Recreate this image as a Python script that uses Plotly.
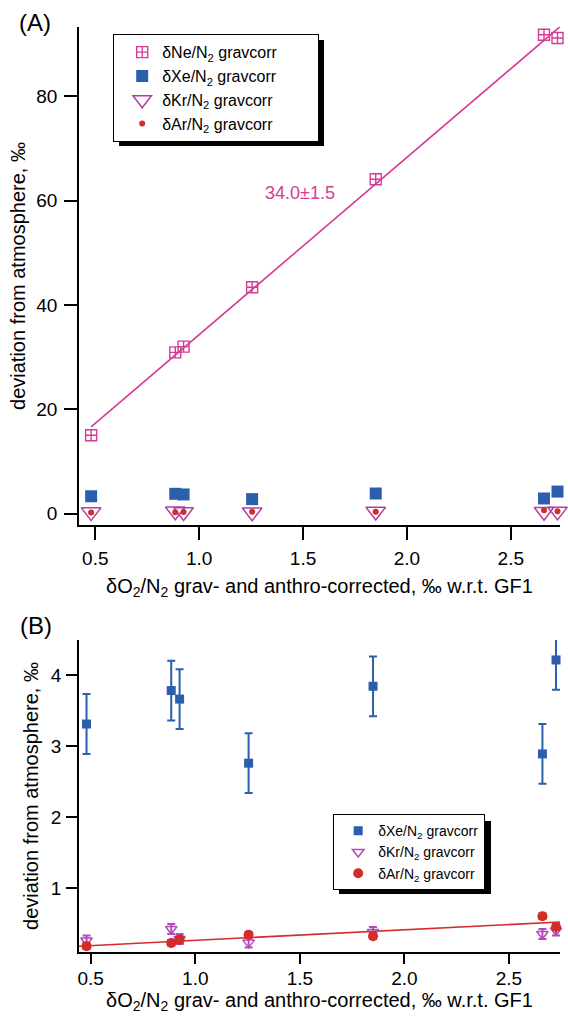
import plotly.graph_objects as go

# ---------------- data ----------------
x_o2n2 = [0.48, 0.885, 0.925, 1.255, 1.85, 2.66, 2.725]
ne_dev = [15.0, 30.9, 32.0, 43.4, 64.1, 91.8, 91.2]
xe_dev = [3.31, 3.78, 3.66, 2.76, 3.84, 2.89, 4.21]
xe_err = [0.42, 0.42, 0.42, 0.42, 0.42, 0.42, 0.42]
kr_dev = [0.27, 0.43, 0.29, 0.24, 0.39, 0.36, 0.41]
kr_err = [0.07, 0.07, 0.07, 0.07, 0.07, 0.07, 0.07]
ar_dev = [0.19, 0.235, 0.28, 0.35, 0.33, 0.61, 0.46]
ar_err = [0.04, 0.04, 0.05, 0.04, 0.04, 0.04, 0.04]

ne_fit_slope, ne_fit_intercept = 34.0, 0.3
ne_fit_label = "34.0±1.5"
ar_fit_slope, ar_fit_intercept = 0.1475, 0.124

xrange_a = [0.4216, 2.737]
yrange_a = [-2.2, 93.3]
xrange_b = [0.444, 2.744]
yrange_b = [0.108, 4.49]
xticks = [0.5, 1.0, 1.5, 2.0, 2.5]
xticklabels = ["0.5", "1.0", "1.5", "2.0", "2.5"]
yticks_a = [0, 20, 40, 60, 80]
yticks_b = [1, 2, 3, 4]

# ---------------- styles ----------------
NE = "#d63b97"
KR_A = "#b0409f"
KR_B = "#b449b8"
XE = "#2b5ead"
AR = "#d42b2b"
FONT = "Liberation Sans, Arial, sans-serif"
PAD_A = "\u00a0" * 8
PAD_B = ""

W, H = 568, 1021
L, R, T, B = 79, 8, 27, 69
PW, PH = W - L - R, H - T - B


def px(x):
    return (x - L) / PW


def py(y):
    return (H - B - y) / PH


fig = go.Figure()

# ---- panel A ----
fx_a = [x_o2n2[0], xrange_a[1]]
fig.add_trace(go.Scatter(
    x=fx_a, y=[ne_fit_slope * v + ne_fit_intercept for v in fx_a],
    mode="lines", line=dict(color=NE, width=1.6), showlegend=False,
    xaxis="x", yaxis="y", hoverinfo="skip"))
fig.add_trace(go.Scatter(
    x=x_o2n2, y=ne_dev, mode="markers", name="δNe/N<sub>2</sub> gravcorr" + PAD_A,
    marker=dict(symbol="square-cross-open", size=11, color=NE, line=dict(width=1.4)),
    cliponaxis=False, xaxis="x", yaxis="y", legend="legend", legendgroup="a1"))
fig.add_trace(go.Scatter(
    x=x_o2n2, y=xe_dev, mode="markers", name="δXe/N<sub>2</sub> gravcorr" + PAD_A,
    marker=dict(symbol="square", size=12, color=XE),
    cliponaxis=False, xaxis="x", yaxis="y", legend="legend", legendgroup="a2"))
fig.add_trace(go.Scatter(
    x=x_o2n2, y=kr_dev, mode="markers", name="δKr/N<sub>2</sub> gravcorr" + PAD_A,
    marker=dict(symbol="triangle-down-open", size=17, color=KR_A, line=dict(width=1.5)),
    cliponaxis=False, xaxis="x", yaxis="y", legend="legend", legendgroup="a3"))
fig.add_trace(go.Scatter(
    x=x_o2n2, y=ar_dev, mode="markers", name="δAr/N<sub>2</sub> gravcorr" + PAD_A,
    marker=dict(symbol="circle", size=6, color=AR),
    cliponaxis=False, xaxis="x", yaxis="y", legend="legend", legendgroup="a4"))

# ---- panel B ----
fig.add_trace(go.Scatter(
    x=xrange_b, y=[ar_fit_slope * v + ar_fit_intercept for v in xrange_b],
    mode="lines", line=dict(color=AR, width=1.6), showlegend=False,
    xaxis="x2", yaxis="y2", hoverinfo="skip"))
fig.add_trace(go.Scatter(
    x=x_o2n2, y=xe_dev, mode="markers", name="δXe/N<sub>2</sub> gravcorr" + PAD_B,
    error_y=dict(type="data", array=xe_err, color=XE, thickness=2, width=4),
    marker=dict(symbol="square", size=9, color=XE),
    cliponaxis=False, xaxis="x2", yaxis="y2", legend="legend2", legendgroup="b1"))
fig.add_trace(go.Scatter(
    x=x_o2n2, y=kr_dev, mode="markers", name="δKr/N<sub>2</sub> gravcorr" + PAD_B,
    error_y=dict(type="data", array=kr_err, color=KR_B, thickness=2, width=4),
    marker=dict(symbol="triangle-down-open", size=10, color=KR_B, line=dict(width=1.5)),
    cliponaxis=False, xaxis="x2", yaxis="y2", legend="legend2", legendgroup="b2"))
fig.add_trace(go.Scatter(
    x=x_o2n2, y=ar_dev, mode="markers", name="δAr/N<sub>2</sub> gravcorr" + PAD_B,
    error_y=dict(type="data", array=ar_err, color=AR, thickness=2, width=4),
    marker=dict(symbol="circle", size=10, color=AR),
    cliponaxis=False, xaxis="x2", yaxis="y2", legend="legend2", legendgroup="b3"))

xtitle = "δO<sub>2</sub>/N<sub>2</sub> grav- and anthro-corrected, ‰ w.r.t. GF1"
ytitle = "deviation from atmosphere, ‰"

axis_common = dict(showline=True, linecolor="black", linewidth=1.5, ticks="outside",
                   tickcolor="black", tickwidth=1.5, showgrid=False, zeroline=False,
                   automargin=False,
                   tickfont=dict(family=FONT, size=19, color="black"))

fig.update_layout(
    width=W, height=H,
    margin=dict(l=L, r=R, t=T, b=B),
    paper_bgcolor="white", plot_bgcolor="white",
    font=dict(family=FONT, color="black"),
    xaxis=dict(domain=[0, 1], range=xrange_a, anchor="y", tickvals=xticks, ticktext=xticklabels,
               ticklen=13, ticklabelstandoff=2,
               title=dict(text=xtitle, font=dict(size=20), standoff=11), **axis_common),
    yaxis=dict(domain=[py(525), 1], range=yrange_a, anchor="x", tickvals=yticks_a,
               ticklen=13, ticklabelstandoff=3,
               title=dict(text=ytitle, font=dict(size=20), standoff=5), **axis_common),
    xaxis2=dict(domain=[0, 1], range=xrange_b, anchor="y2", tickvals=xticks, ticktext=xticklabels,
                ticklen=10, ticklabelstandoff=-2,
                title=dict(text=xtitle, font=dict(size=20), standoff=5), **axis_common),
    yaxis2=dict(domain=[0, py(640)], range=yrange_b, anchor="x2", tickvals=yticks_b,
                ticklen=11, ticklabelstandoff=1,
                title=dict(text=ytitle, font=dict(size=20), standoff=7), **axis_common),
    legend=dict(x=px(113), y=py(34), xanchor="left", yanchor="top", bgcolor="white",
                bordercolor="black", borderwidth=1.2, tracegroupgap=0,
                indentation=8, font=dict(family=FONT, size=16, color="black")),
    legend2=dict(x=px(333), y=py(852), xanchor="left", yanchor="middle", bgcolor="white",
                 bordercolor="black", borderwidth=1.2, tracegroupgap=0,
                 indentation=4, font=dict(family=FONT, size=14, color="black")),
    annotations=[
        dict(x=1.485, y=61.4, xref="x", yref="y", text=ne_fit_label, showarrow=False,
             xanchor="center", yanchor="middle",
             font=dict(family=FONT, size=18, color=NE)),
        dict(x=px(35), y=py(22), xref="paper", yref="paper", text="(A)", showarrow=False,
             xanchor="center", yanchor="middle",
             font=dict(family=FONT, size=24, color="black")),
        dict(x=px(36), y=py(625), xref="paper", yref="paper", text="(B)", showarrow=False,
             xanchor="center", yanchor="middle",
             font=dict(family=FONT, size=24, color="black")),
    ],
    shapes=[
        dict(type="rect", xref="paper", yref="paper", x0=px(119), x1=px(324), y0=py(146), y1=py(40),
             fillcolor="black", line=dict(width=0), layer="above"),
        dict(type="rect", xref="paper", yref="paper", x0=px(339), x1=px(491), y0=py(894), y1=py(821),
             fillcolor="black", line=dict(width=0), layer="above"),
    ],
)

fig.write_html("out.html", config={"displayModeBar": False},
               post_script="document.body.style.margin='0px';")
